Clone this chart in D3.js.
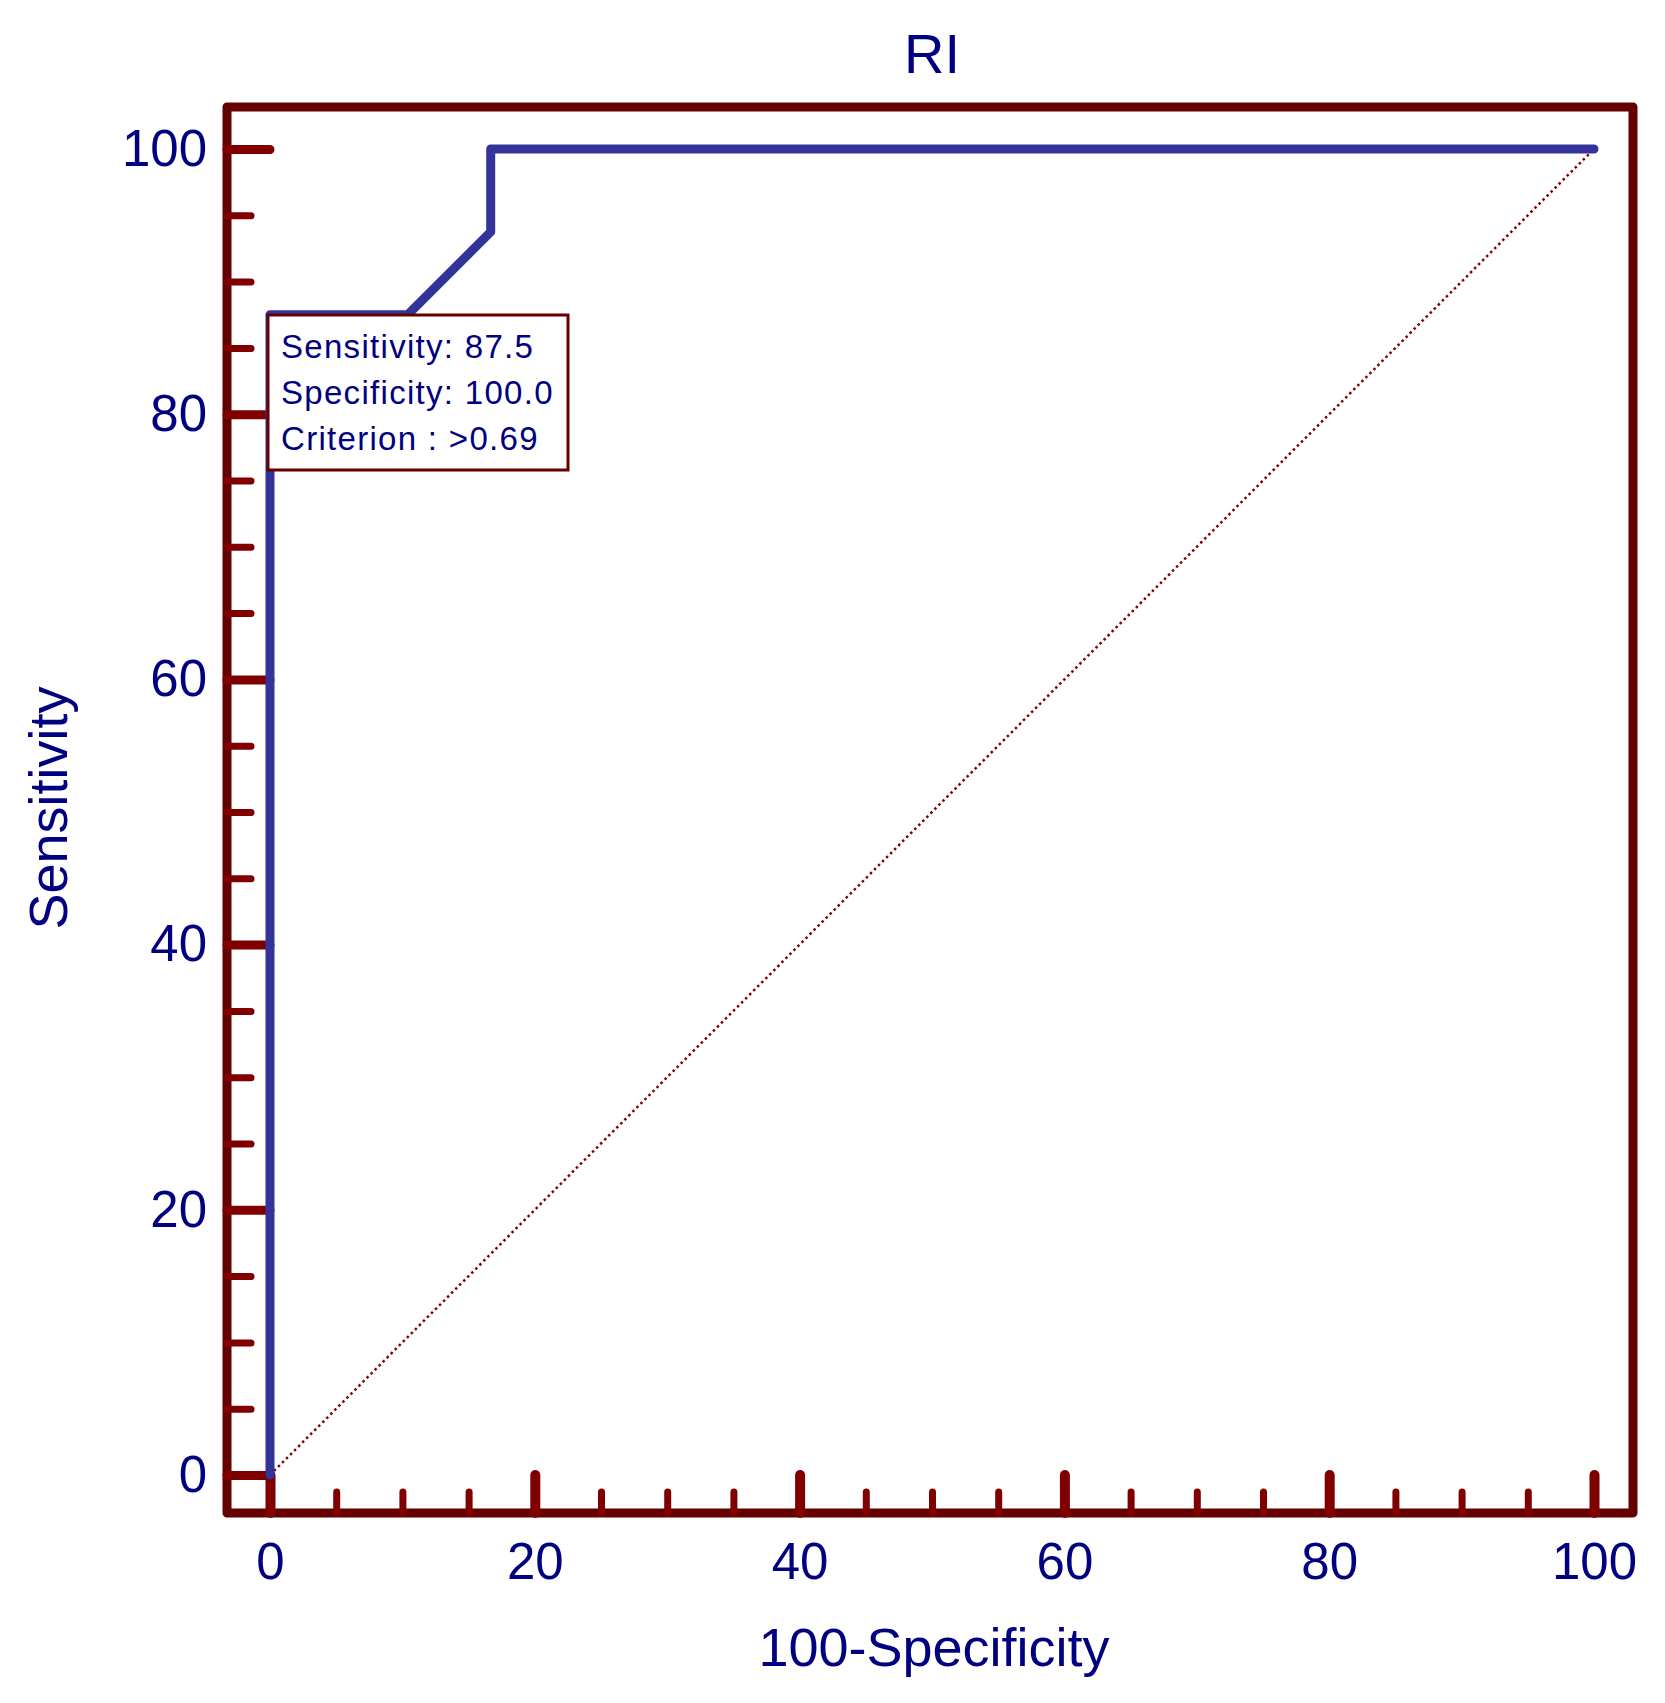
<!DOCTYPE html>
<html>
<head>
<meta charset="utf-8">
<script src="https://cdn.jsdelivr.net/npm/d3@7"></script>
<style>
  body{margin:0;background:#fff;}
  text{font-family:"Liberation Sans",Arial,sans-serif;}
</style>
</head>
<body>
<script>
// ROC curve points (100-Specificity, Sensitivity)
const fpr=[0,0,10.4,16.67,16.67,100]
const sens=[0,87.5,87.5,93.75,100,100]
const majorTicks=[0,20,40,60,80,100]
const minorTicks=[5,10,15,25,30,35,45,50,55,65,70,75,85,90,95]
const boxLines=["Sensitivity: 87.5","Specificity: 100.0","Criterion : >0.69"]
const title="RI"
const xTitle="100-Specificity"
const yTitle="Sensitivity"

const w=1665, h=1703
const frame={left:227,right:1633,top:107,bottom:1513}
const navy="#000080", frameCol="#660000", tickCol="#800000", lineCol="#333399"

const svg=d3.select("body").append("svg").attr("width",w).attr("height",h)

const x=d3.scaleLinear().domain([0,100]).range([270,1594])
const y=d3.scaleLinear().domain([0,100]).range([1475,149])

// frame
svg.append("rect")
  .attr("x",frame.left).attr("y",frame.top)
  .attr("width",frame.right-frame.left).attr("height",frame.bottom-frame.top)
  .attr("fill","none").attr("stroke",frameCol).attr("stroke-width",9)
  .attr("stroke-linejoin","round")

function styleTicks(g,width){
  g.select(".domain").remove()
  g.selectAll(".tick line").attr("stroke",tickCol).attr("stroke-width",width).attr("stroke-linecap","round")
}

// y ticks (inside frame)
svg.append("g").attr("transform","translate("+frame.left+",0)")
  .call(d3.axisRight(y).tickValues(minorTicks).tickSize(24).tickFormat(""))
  .call(g=>styleTicks(g,7))
svg.append("g").attr("transform","translate("+frame.left+",0)")
  .call(d3.axisRight(y).tickValues(majorTicks).tickSize(x(0)-frame.left).tickFormat(""))
  .call(g=>styleTicks(g,9))
// y labels
svg.append("g").attr("transform","translate("+frame.left+",0)")
  .call(d3.axisLeft(y).tickValues(majorTicks).tickSize(0).tickPadding(20))
  .call(g=>{g.select(".domain").remove()
    g.selectAll("text").attr("fill",navy).style("font-size","51px").style("font-family","'Liberation Sans',Arial,sans-serif")})

// x ticks
svg.append("g").attr("transform","translate(0,"+frame.bottom+")")
  .call(d3.axisTop(x).tickValues(minorTicks).tickSize(21).tickFormat(""))
  .call(g=>styleTicks(g,7))
svg.append("g").attr("transform","translate(0,"+frame.bottom+")")
  .call(d3.axisTop(x).tickValues(majorTicks).tickSize(frame.bottom-y(0)).tickFormat(""))
  .call(g=>styleTicks(g,10))
svg.append("g").attr("transform","translate(0,"+frame.bottom+")")
  .call(d3.axisBottom(x).tickValues(majorTicks).tickSize(0).tickPadding(30))
  .call(g=>{g.select(".domain").remove()
    g.selectAll("text").attr("fill",navy).style("font-size","51px").style("font-family","'Liberation Sans',Arial,sans-serif")})

// reference diagonal
svg.append("line")
  .attr("x1",x(0)).attr("y1",y(0)).attr("x2",x(100)).attr("y2",y(100))
  .attr("stroke",tickCol).attr("stroke-width",2.5).attr("stroke-dasharray","2.5,3.2")

// ROC curve
const line=d3.line().x((d,i)=>x(fpr[i])).y((d,i)=>y(sens[i]))
svg.append("path").datum(fpr)
  .attr("d",line)
  .attr("fill","none").attr("stroke",lineCol).attr("stroke-width",9)
  .attr("stroke-linejoin","round").attr("stroke-linecap","round")

// criterion box
svg.append("rect").attr("x",268).attr("y",315).attr("width",300).attr("height",155)
  .attr("fill","#fff").attr("stroke",frameCol).attr("stroke-width",3)
svg.selectAll(".boxtext").data(boxLines).enter().append("text")
  .attr("class","boxtext")
  .attr("x",281).attr("y",(d,i)=>358+i*46)
  .attr("fill",navy).style("font-size","33px").style("letter-spacing","1.3px")
  .text(d=>d)

// titles
svg.append("text").attr("x",932).attr("y",73).attr("text-anchor","middle")
  .attr("fill",navy).style("font-size","56px").text(title)
svg.append("text").attr("x",934).attr("y",1666).attr("text-anchor","middle")
  .attr("fill",navy).style("font-size","54px").text(xTitle)
svg.append("text").attr("transform","translate(67,808) rotate(-90)").attr("text-anchor","middle")
  .attr("fill",navy).style("font-size","54px").text(yTitle)
</script>
</body>
</html>
